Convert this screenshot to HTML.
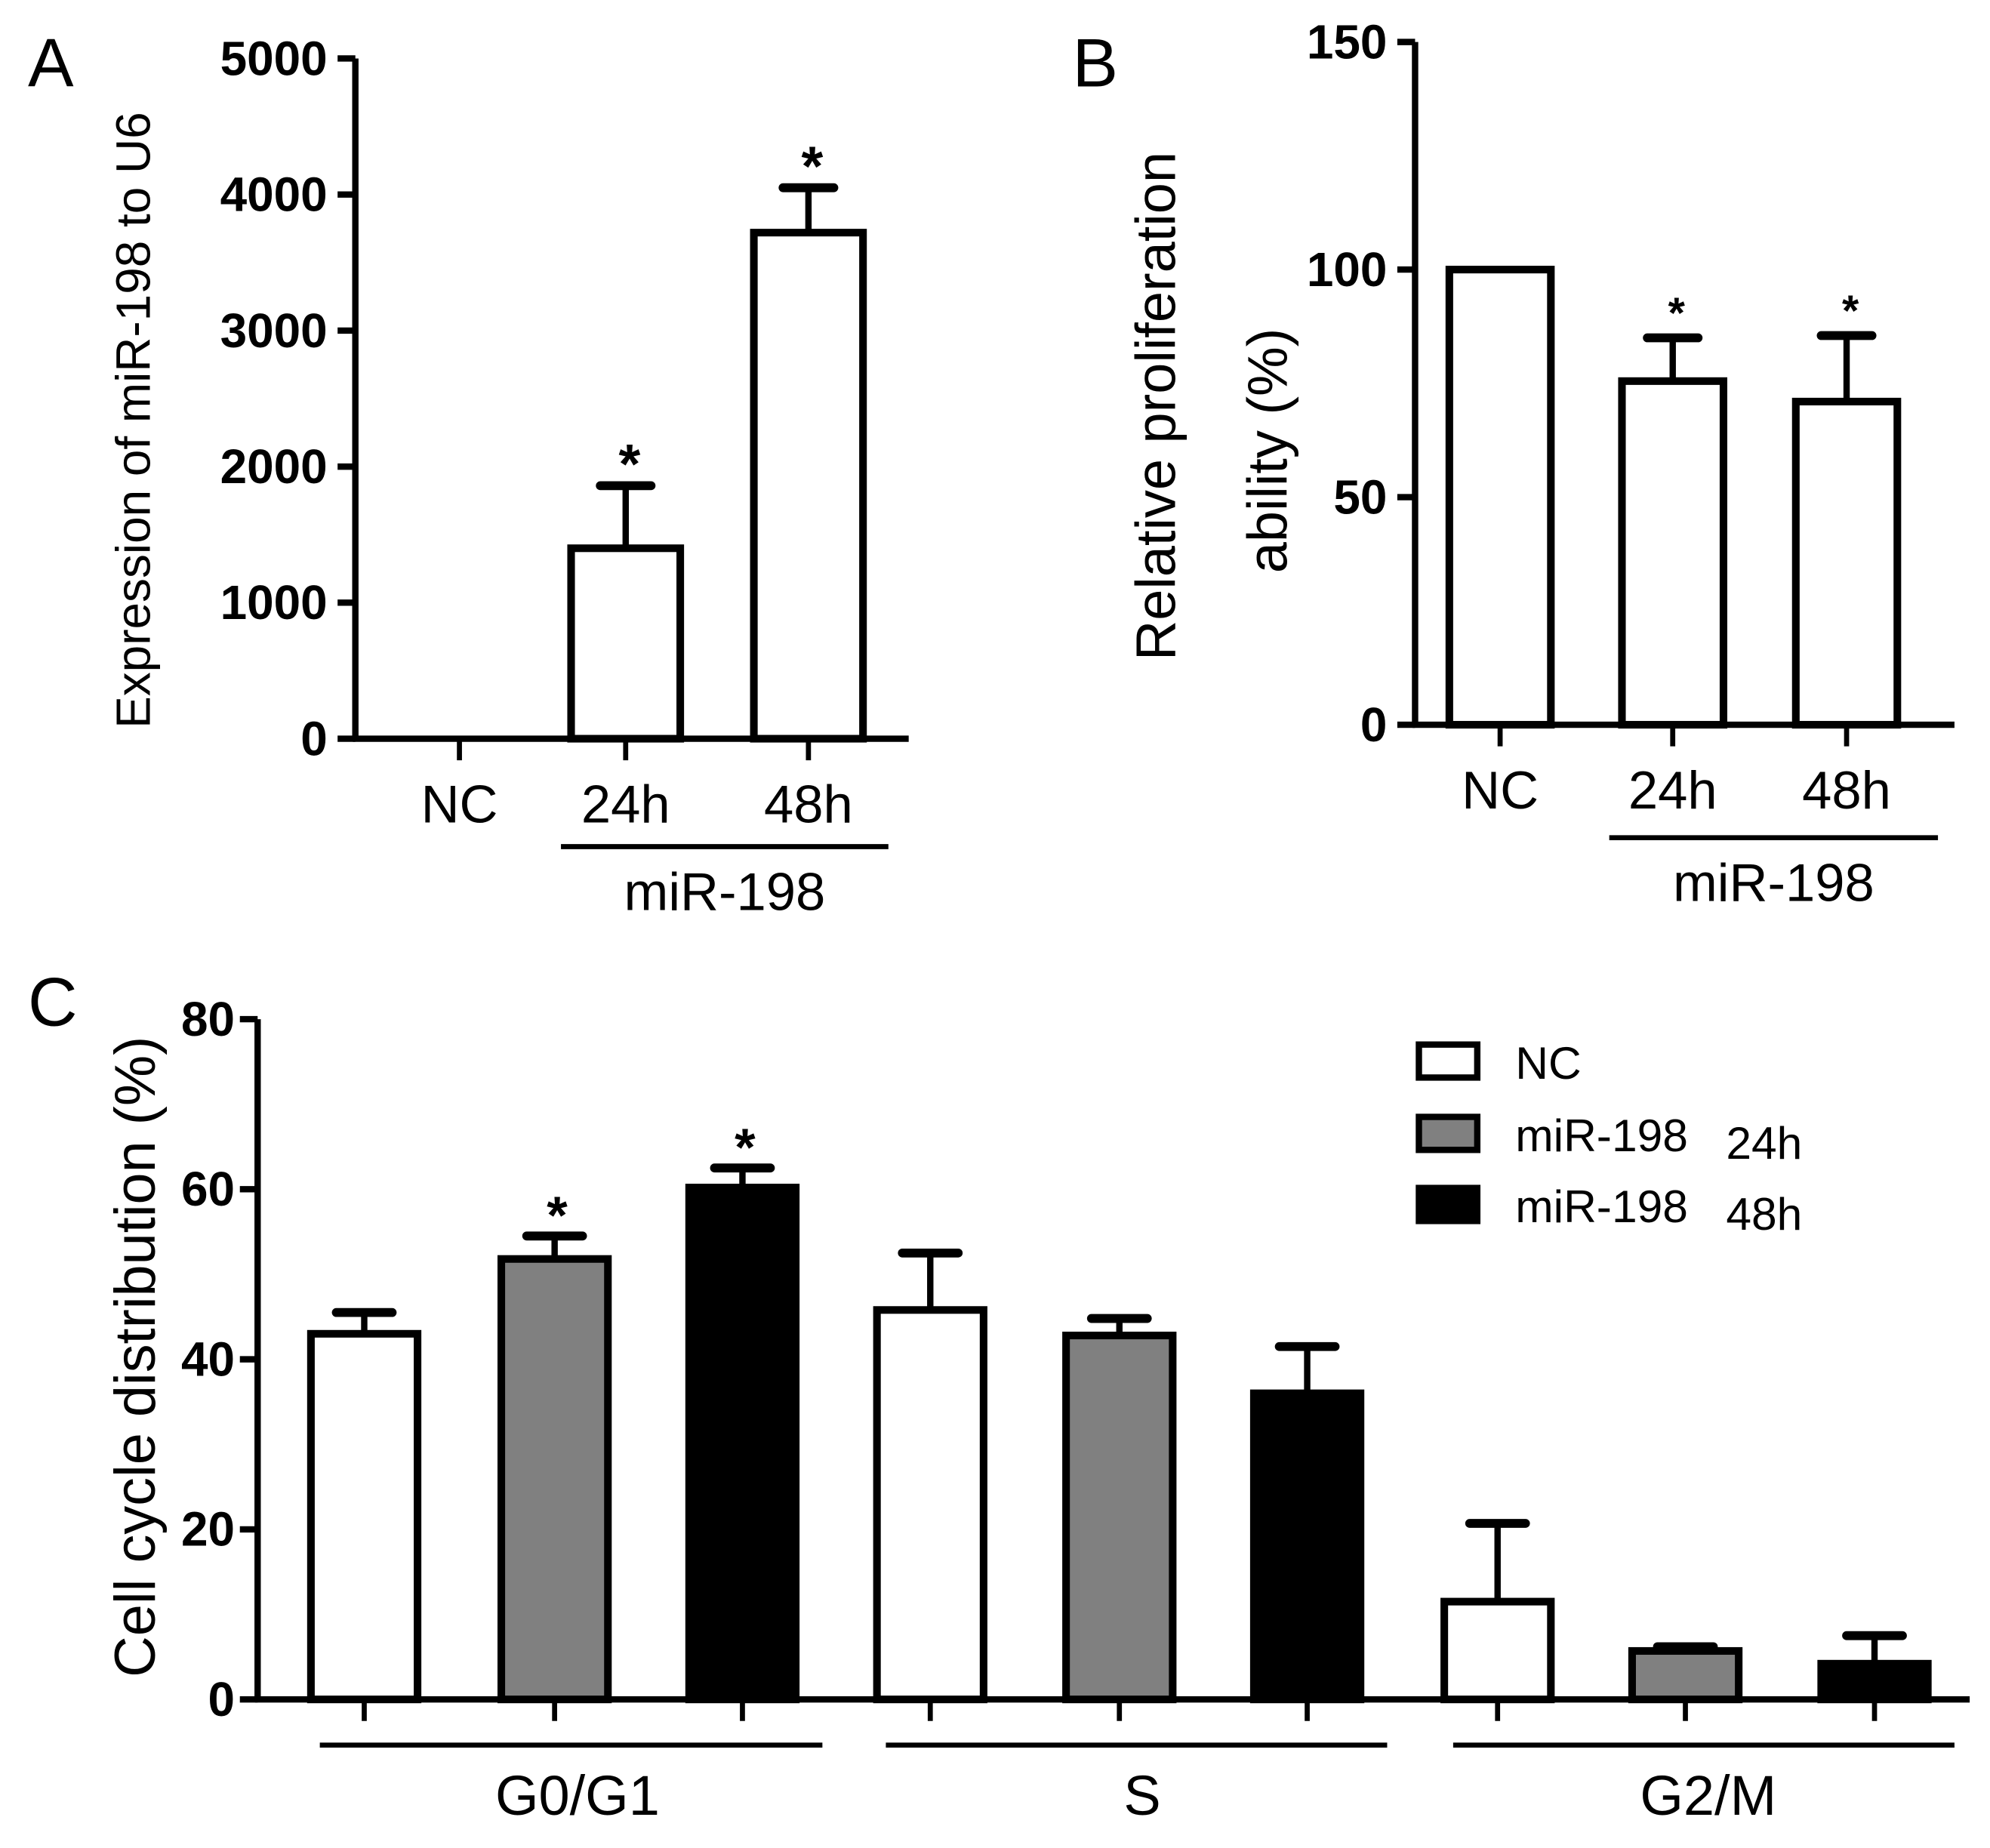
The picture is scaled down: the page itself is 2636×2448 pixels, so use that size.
<!DOCTYPE html>
<html><head><meta charset="utf-8"><style>
html,body{margin:0;padding:0;background:#fff;}
svg{display:block;font-family:"Liberation Sans",Arial,sans-serif;}
</style></head><body>
<svg id="fig" width="2636" height="2448" viewBox="0 0 1568 1456" xmlns="http://www.w3.org/2000/svg">
<rect width="1568" height="1456" fill="#fff"/>
<g id="A"></g>
<g id="B"></g>
<g id="C"></g>
</svg>
<script>
// Panel A data
const aCats = ["NC","24h","48h"];
const aVals = [0,1400,3720];
const aErr = [0,1860,4050];
const aStar = [false,true,true];
const aTicks = [0,1000,2000,3000,4000,5000];
// Panel B data
const bCats = ["NC","24h","48h"];
const bVals = [100,75.5,71];
const bErr = [100,85,85.5];
const bStar = [false,true,true];
const bTicks = [0,50,100,150];
// Panel C data
const cGroups = ["G0/G1","S","G2/M"];
const cSeries = ["NC","miR-198 24h","miR-198 48h"];
const cNC = [43,45.8,11.5];
const c24 = [51.8,42.8,5.7];
const c48 = [60.2,36,4.2];
const cNCerr = [45.5,52.5,20.7];
const c24err = [54.5,44.8,6.2];
const c48err = [62.5,41.5,7.5];
const cStar24 = [true,false,false];
const cStar48 = [true,false,false];
const cTicks = [0,20,40,60,80];

const NS="http://www.w3.org/2000/svg";
function mk(p,tag,at,txt){const e=document.createElementNS(NS,tag);for(const k in at)e.setAttribute(k,at[k]);if(txt!==undefined)e.textContent=txt;p.appendChild(e);return e;}

function simplePanel(g,o){
  const y=v=>o.y0-(v-o.vmin)/(o.vmax-o.vmin)*(o.y0-o.ytop);
  const ax=mk(g,'line',{x1:o.ax,y1:o.ytop,x2:o.ax,y2:o.y0,stroke:'#000','stroke-width':5});
  
  o.ticks.forEach(t=>{
    const l=mk(g,'line',{x1:o.ax-14,y1:y(t),x2:o.ax,y2:y(t),stroke:'#000','stroke-width':5});
    
    const tx=mk(g,'text',{x:o.ax-22,y:y(t)+13,'text-anchor':'end','font-size':38,'font-weight':'bold'},String(t));
    
  });
  o.cats.forEach((c,i)=>{
    const cx=o.cx[i];
    const tk=mk(g,'line',{x1:cx,y1:o.y0,x2:cx,y2:o.y0+17,stroke:'#000','stroke-width':4});
    
    const lb=mk(g,'text',{x:cx,y:o.y0+66,'text-anchor':'middle','font-size':42},c);
    
    if(o.vals[i]>0){
      const er=mk(g,'line',{x1:cx,y1:y(o.vals[i]),x2:cx,y2:y(o.err[i]),stroke:'#000','stroke-width':5});
      
      if(o.err[i]>o.vals[i]){
        const cp=mk(g,'line',{x1:cx-20,y1:y(o.err[i]),x2:cx+20,y2:y(o.err[i]),stroke:'#000','stroke-width':7,'stroke-linecap':'round'});
        
      }
      const b=mk(g,'rect',{x:cx-o.bw/2,y:y(o.vals[i]),width:o.bw,height:o.y0-y(o.vals[i]),fill:'#fff',stroke:'#000','stroke-width':6});
      
    }
    if(o.star[i]){
      const s=mk(g,'text',{x:cx+3,y:y(o.err[i])+o.starOff,'text-anchor':'middle','font-size':o.starSize,'font-weight':'bold'},'*');
      
    }
  });
  const xa=mk(g,'line',{x1:o.ax-2,y1:o.y0,x2:o.xend,y2:o.y0,stroke:'#000','stroke-width':5});
  
  const br=mk(g,'line',{x1:o.br[0],y1:o.br[1],x2:o.br[2],y2:o.br[1],stroke:'#000','stroke-width':4});
  
  const gl=mk(g,'text',{x:(o.br[0]+o.br[2])/2,y:o.br[1]+50,'text-anchor':'middle','font-size':42},'miR-198');
  
}

const A=document.getElementById('A');
simplePanel(A,{ax:280,ytop:46,y0:582,vmin:0,vmax:5000,ticks:aTicks,cats:aCats,cx:[362,493,637],vals:aVals,err:aErr,star:aStar,bw:86,xend:716,br:[442,667,700],starOff:-2,starSize:44});
let t=mk(A,'text',{x:22,y:68,'font-size':54},'A');
t=mk(A,'text',{x:118,y:331,'text-anchor':'middle','font-size':38,transform:'rotate(-90 118 331)'},'Expression of miR-198 to U6');


const B=document.getElementById('B');
simplePanel(B,{ax:1115,ytop:33,y0:571,vmin:0,vmax:150,ticks:bTicks,cats:bCats,cx:[1182,1318,1455],vals:bVals,err:bErr,star:bStar,bw:80,xend:1540,br:[1268,660,1527],starOff:-8,starSize:34});
t=mk(B,'text',{x:845,y:68,'font-size':54},'B');
t=mk(B,'text',{x:926,y:320,'text-anchor':'middle','font-size':44,transform:'rotate(-90 926 320)'},'Relative proliferation');

t=mk(B,'text',{x:1014,y:355,'text-anchor':'middle','font-size':44,transform:'rotate(-90 1014 355)'},'ability (%)');


// Panel C
const C=document.getElementById('C');
(function(){
  const ax=203,ytop=803,y0=1339,vmax=80;
  const y=v=>y0-v/vmax*(y0-ytop);
  const centers=[[287,437,585],[733,882,1030],[1180,1328,1477]];
  const series=[cNC,c24,c48],errs=[cNCerr,c24err,c48err],stars=[[false,false,false],cStar24,cStar48];
  const fills=['#fff','#808080','#000'];
  let e=mk(C,'line',{x1:ax,y1:ytop,x2:ax,y2:y0,stroke:'#000','stroke-width':5});
  
  cTicks.forEach(v=>{
    let l=mk(C,'line',{x1:ax-14,y1:y(v),x2:ax,y2:y(v),stroke:'#000','stroke-width':5});
    
    let tx=mk(C,'text',{x:ax-18,y:y(v)+13,'text-anchor':'end','font-size':38,'font-weight':'bold'},String(v));
    
  });
  cGroups.forEach((gname,gi)=>{
    series.forEach((s,si)=>{
      const cx=centers[gi][si];
      let tk=mk(C,'line',{x1:cx,y1:y0,x2:cx,y2:y0+17,stroke:'#000','stroke-width':4});
      
      let er=mk(C,'line',{x1:cx,y1:y(s[gi]),x2:cx,y2:y(errs[si][gi]),stroke:'#000','stroke-width':5});
      
      let cp=mk(C,'line',{x1:cx-22,y1:y(errs[si][gi]),x2:cx+22,y2:y(errs[si][gi]),stroke:'#000','stroke-width':7,'stroke-linecap':'round'});
      
      let b=mk(C,'rect',{x:cx-42,y:y(s[gi]),width:84,height:y0-y(s[gi]),fill:fills[si],stroke:'#000','stroke-width':6});
      
      if(stars[si][gi]){
        let st=mk(C,'text',{x:cx+2,y:y(errs[si][gi])-2,'text-anchor':'middle','font-size':42,'font-weight':'bold'},'*');
        
      }
    });
    const x1=centers[gi][0]-35,x2=centers[gi][2]+63;
    let br=mk(C,'line',{x1:x1,y1:1375,x2:x2,y2:1375,stroke:'#000','stroke-width':4});
    
    let gl=mk(C,'text',{x:centers[gi][1]+18,y:1430,'text-anchor':'middle','font-size':44},gname);
    
  });
  e=mk(C,'line',{x1:ax-2,y1:y0,x2:1552,y2:y0,stroke:'#000','stroke-width':5});
  
  let tt=mk(C,'text',{x:22,y:808,'font-size':54},'C');
  tt=mk(C,'text',{x:122,y:1069,'text-anchor':'middle','font-size':45,transform:'rotate(-90 122 1069)'},'Cell cycle distribution (%)');
  
  const ly=[836,893,949];
  cSeries.forEach((nm,i)=>{
    let r=mk(C,'rect',{x:1118,y:ly[i]-13,width:46,height:26,fill:fills[i],stroke:'#000','stroke-width':5});
    
    const parts=nm.split(' ');
    let l1=mk(C,'text',{x:1194,y:ly[i]+14,'font-size':36},parts[0]);
    
    if(parts[1]){let l2=mk(C,'text',{x:1360,y:ly[i]+20,'font-size':36},parts[1]);
      }
  });
})();
</script>
</body></html>
